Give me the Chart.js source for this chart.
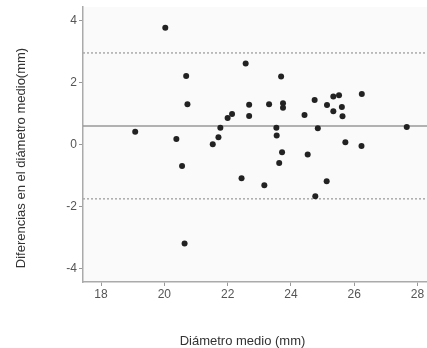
<!DOCTYPE html>
<html>
<head>
<meta charset="utf-8">
<script src="https://cdn.jsdelivr.net/npm/chart.js@4"></script>
<style>
  body { margin: 0; background: #fff; }
  #wrap { width: 427px; height: 348px; }
</style>
</head>
<body>
<div id="wrap"><canvas id="myChart" width="427" height="348"></canvas></div>
<script>
// mean diameter (x) and difference (y) for each measurement pair
const meanDiameter = [19.08, 20.03, 20.38, 20.56, 20.64, 20.69, 20.73, 21.53, 21.71, 21.77,
  22.00, 22.14, 22.44, 22.57, 22.68, 22.68, 23.16, 23.31, 23.54, 23.55,
  23.63, 23.69, 23.72, 23.75, 23.75, 24.43, 24.53, 24.75, 24.77, 24.85,
  25.13, 25.14, 25.34, 25.34, 25.52, 25.61, 25.63, 25.72, 26.23, 26.24, 27.66];
const difference = [0.41, 3.76, 0.18, -0.69, -3.19, 2.21, 1.30, 0.01, 0.23, 0.54,
  0.85, 0.98, -1.09, 2.61, 1.28, 0.92, -1.31, 1.30, 0.54, 0.29,
  -0.60, 2.19, -0.25, 1.33, 1.18, 0.95, -0.32, 1.43, -1.67, 0.52,
  -1.18, 1.27, 1.55, 1.07, 1.59, 1.21, 0.91, 0.07, -0.05, 1.63, 0.56];

// bias and limits of agreement
const meanDiff = 0.60;
const upperLimit = 2.95;
const lowerLimit = -1.75;

// axis ranges and tick labels
const xRange = [17.43, 28.3];
const yRange = [-4.43, 4.43];
const xTicks = [18, 20, 22, 24, 26, 28];
const yTicks = [-4, -2, 0, 2, 4];

const xTitle = 'Diámetro medio (mm)';
const yTitle = 'Diferencias en el diámetro medio(mm)';

// build the point list for the scatter
let points = meanDiameter.map((x, i) => {
  return { x: x, y: difference[i] };
});

function hLine(value) {
  return [{ x: xRange[0], y: value }, { x: xRange[1], y: value }];
}

// light grey plot background + axis titles
const decor = {
  id: 'decor',
  beforeDraw(chart) {
    const { ctx, chartArea: a } = chart;
    ctx.save();
    ctx.fillStyle = '#fff';
    ctx.fillRect(0, 0, chart.width, chart.height);
    ctx.fillStyle = '#fafafa';
    ctx.fillRect(a.left, a.top, a.right - a.left, a.bottom - a.top);
    ctx.restore();
  },
  afterDraw(chart) {
    const ctx = chart.ctx;
    ctx.save();
    ctx.fillStyle = '#333';
    ctx.font = '13px "Liberation Sans", Arial, sans-serif';
    ctx.textAlign = 'center';
    ctx.textBaseline = 'middle';
    ctx.fillText(xTitle, 242.5, 341);
    ctx.translate(21, 158);
    ctx.rotate(-Math.PI / 2);
    ctx.fillText(yTitle, 0, 0);
    ctx.restore();
  }
};

const axisStyle = {
  border: { display: true, color: '#aaa', width: 1.5 },
  grid: { drawOnChartArea: false, drawTicks: true, tickLength: 4, color: '#999', lineWidth: 1 },
  ticks: { color: '#555', font: { size: 12, family: '"Liberation Sans", Arial, sans-serif' } }
};

const myChart = document.getElementById('myChart');

let scatterChart = new Chart(myChart, {
  type: 'scatter',
  data: {
    datasets: [
      {
        label: 'diferencias',
        data: points,
        backgroundColor: '#222',
        borderWidth: 0,
        pointRadius: 3
      },
      {
        label: 'media',
        data: hLine(meanDiff),
        showLine: true,
        borderColor: '#999',
        borderWidth: 1.5,
        pointRadius: 0
      },
      {
        label: 'limite superior',
        data: hLine(upperLimit),
        showLine: true,
        borderColor: '#aaa',
        borderWidth: 1.5,
        borderDash: [2, 2],
        pointRadius: 0
      },
      {
        label: 'limite inferior',
        data: hLine(lowerLimit),
        showLine: true,
        borderColor: '#aaa',
        borderWidth: 1.5,
        borderDash: [2, 2],
        pointRadius: 0
      }
    ]
  },
  options: {
    responsive: false,
    animation: false,
    devicePixelRatio: 1,
    layout: { autoPadding: false, padding: { top: 7, right: 0, left: 0, bottom: 0 } },
    plugins: {
      legend: { display: false },
      tooltip: { enabled: false }
    },
    scales: {
      x: {
        type: 'linear',
        min: xRange[0],
        max: xRange[1],
        border: axisStyle.border,
        grid: axisStyle.grid,
        ticks: Object.assign({ padding: 1, maxRotation: 0 }, axisStyle.ticks),
        afterBuildTicks: (scale) => { scale.ticks = xTicks.map(v => ({ value: v })); },
        afterFit: (scale) => { scale.height = 66; scale.paddingRight = 0; scale.paddingLeft = 0; }
      },
      y: {
        type: 'linear',
        min: yRange[0],
        max: yRange[1],
        border: axisStyle.border,
        grid: axisStyle.grid,
        ticks: Object.assign({ padding: 2 }, axisStyle.ticks),
        afterBuildTicks: (scale) => { scale.ticks = yTicks.map(v => ({ value: v })); },
        afterFit: (scale) => { scale.width = 83; scale.paddingTop = 0; scale.paddingBottom = 0; }
      }
    }
  },
  plugins: [decor]
});
</script>
</body>
</html>
